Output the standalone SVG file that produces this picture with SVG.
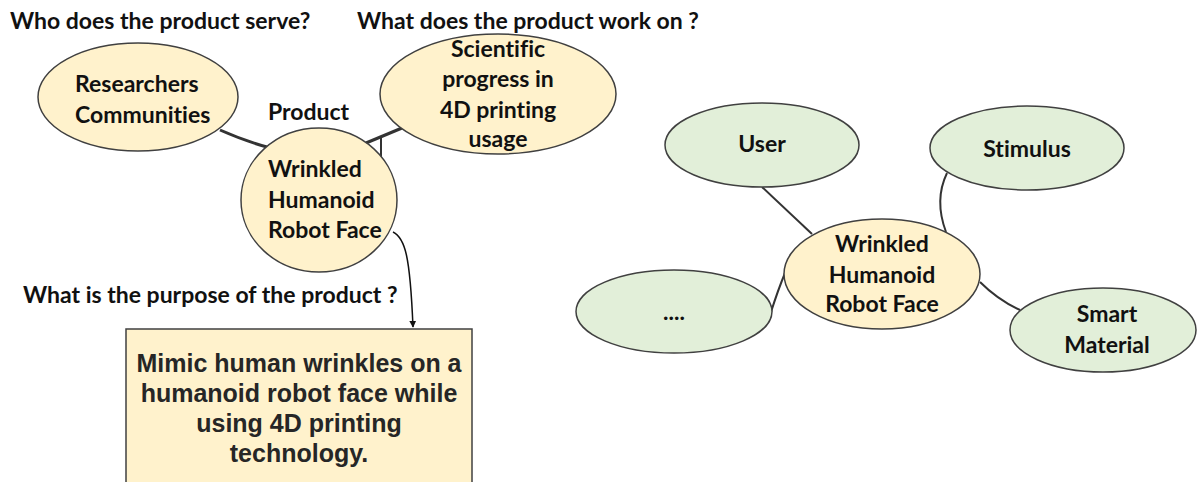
<svg xmlns="http://www.w3.org/2000/svg" width="1197" height="482" viewBox="0 0 1197 482">
<defs>
<style>
.lbl{font-family:Lato,"Liberation Sans",sans-serif;font-weight:bold;font-size:23px;fill:#111;font-variant-ligatures:none}
.mid{text-anchor:middle}
.box{font-family:"Liberation Sans",Arial,sans-serif;font-weight:bold;font-size:25px;fill:#262626;text-anchor:middle}
.y{fill:#fff2cc;stroke:#404040;stroke-width:1.5}
.g{fill:#e2efd9;stroke:#404040;stroke-width:1.5}
.c{fill:none;stroke:#333;stroke-width:2}
.ct{fill:none;stroke:#333;stroke-width:3}
</style>
<marker id="arr" viewBox="0 0 10 10" refX="9" refY="5" markerWidth="7" markerHeight="7" orient="auto" markerUnits="userSpaceOnUse">
<path d="M0,0 L10,5 L0,10 z" fill="#111"/>
</marker>
</defs>
<rect width="1197" height="482" fill="#fff"/>
<g id="connectors">
<path class="ct" d="M220,130 Q245,141 267,147"/>
<path class="ct" d="M366,143 L402,128"/>
<path class="c" d="M381,137 L381,157"/>
<path d="M393,232 C405,238 410,255 413,327" fill="none" stroke="#111" stroke-width="1.5" marker-end="url(#arr)"/>
<path class="c" d="M762,187 L812,234"/>
<path class="c" d="M771,312 Q778,290 785,273"/>
<path class="c" d="M947,173 Q934,200 946,232"/>
<path class="c" d="M980,282 Q998,300 1020,310"/>
</g>
<g id="q1"><text class="lbl" x="10" y="29">Who does the product serve?</text></g>
<g id="q2"><text class="lbl" x="357" y="29">What does the product work on ?</text></g>
<g id="q3"><text class="lbl" x="23" y="303">What is the purpose of the product ?</text></g>
<g id="productLabel"><text class="lbl" x="268" y="120">Product</text></g>
<g id="researchers">
<ellipse class="y" cx="138" cy="97" rx="100" ry="54"/>
<text class="lbl" x="75" y="92">Researchers</text>
<text class="lbl" x="75" y="123">Communities</text>
</g>
<g id="scientific">
<ellipse class="y" cx="498" cy="94" rx="118" ry="60"/>
<text class="lbl mid" x="498" y="57">Scientific</text>
<text class="lbl mid" x="498" y="87">progress in</text>
<text class="lbl mid" x="498" y="118">4D printing</text>
<text class="lbl mid" x="498" y="147">usage</text>
</g>
<g id="product">
<ellipse class="y" cx="319" cy="200" rx="78" ry="72"/>
<text class="lbl" x="268" y="177">Wrinkled</text>
<text class="lbl" x="268" y="208">Humanoid</text>
<text class="lbl" x="268" y="238">Robot Face</text>
</g>
<g id="purpose">
<rect x="126" y="329" width="346" height="170" fill="#fff2cc" stroke="#404040" stroke-width="1.5"/>
<text class="box" x="299" y="372">Mimic human wrinkles on a</text>
<text class="box" x="299" y="402">humanoid robot face while</text>
<text class="box" x="299" y="432">using 4D printing</text>
<text class="box" x="299" y="462">technology.</text>
</g>
<g id="user">
<ellipse class="g" cx="762" cy="145" rx="97" ry="42"/>
<text class="lbl mid" x="762" y="152">User</text>
</g>
<g id="stimulus">
<ellipse class="g" cx="1027" cy="148" rx="97" ry="42"/>
<text class="lbl mid" x="1027" y="157">Stimulus</text>
</g>
<g id="center">
<ellipse class="y" cx="882" cy="274" rx="98" ry="55"/>
<text class="lbl mid" x="882" y="252">Wrinkled</text>
<text class="lbl mid" x="882" y="283">Humanoid</text>
<text class="lbl mid" x="882" y="312">Robot Face</text>
</g>
<g id="dots">
<ellipse class="g" cx="674" cy="311.5" rx="98" ry="41.5"/>
<text class="lbl mid" x="674" y="320">....</text>
</g>
<g id="smart">
<ellipse class="g" cx="1103" cy="330" rx="93" ry="42"/>
<text class="lbl mid" x="1107" y="322">Smart</text>
<text class="lbl mid" x="1107" y="353">Material</text>
</g>
</svg>
